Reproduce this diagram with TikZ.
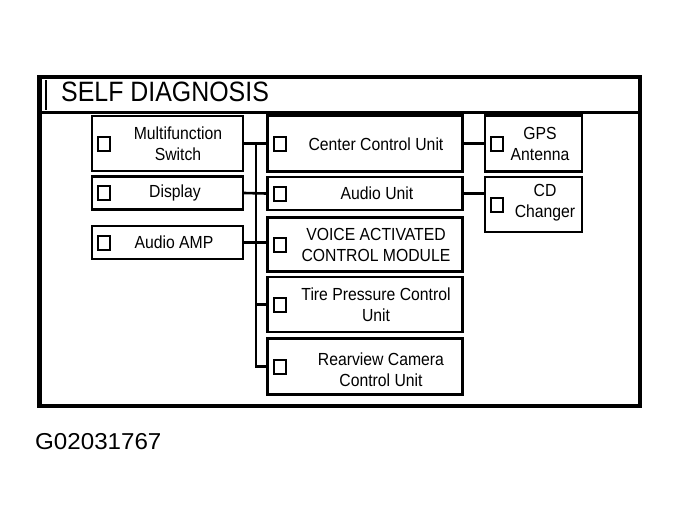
\documentclass[tikz,border=0pt]{standalone}
\usepackage{fontspec}
\usepackage{graphicx}
\setmainfont{Liberation Sans}
\newcommand\cn[1]{\scalebox{0.9}[1]{#1}}
\begin{document}
\begin{tikzpicture}[x=1pt,y=-1pt,
  box/.style={draw, line width=2.2pt, inner sep=0pt},
  chk/.style={draw, line width=2pt, minimum width=12pt, minimum height=14pt, inner sep=0pt},
  lbl/.style={font=\fontsize{17.5}{21}\selectfont, align=center, inner sep=0pt},
  conn/.style={line width=2.6pt},
  frame/.style={line width=4.5pt}]
\useasboundingbox (0,0) rectangle (679,528);
% frame and title
\draw[frame] (39.5,77) rectangle (640,406);
\draw[line width=2.2pt] (39,112.5) -- (640,112.5);
\draw[line width=2.2pt] (46,80) -- (46,110);
\node[anchor=west, inner sep=0pt, font=\fontsize{28}{30}\selectfont] (title) at (61,92) {\scalebox{0.89}[1]{SELF DIAGNOSIS}};
% left column
\node[box, minimum width=151pt, minimum height=55pt] (mfs) at (167.5,143.5) {};
\node[box, minimum width=151pt, minimum height=33pt] (disp) at (167.5,193) {};
\node[box, minimum width=151pt, minimum height=33pt] (amp) at (167.5,242.5) {};
% middle column
\node[box, minimum width=195pt, minimum height=56pt] (ccu) at (365,143.5) {};
\node[box, minimum width=195pt, minimum height=33pt] (au) at (365,193.5) {};
\node[box, minimum width=195pt, minimum height=54pt] (vac) at (365,244.5) {};
\node[box, minimum width=195pt, minimum height=55pt] (tpc) at (365,304.5) {};
\node[box, minimum width=195pt, minimum height=56pt] (rvc) at (365,366.5) {};
% right column
\node[box, minimum width=97pt, minimum height=56pt] (gps) at (533.5,143.5) {};
\node[box, minimum width=97pt, minimum height=55pt] (cd) at (533.5,204.5) {};
% checkboxes
\foreach \b in {mfs,disp,amp,ccu,au,vac,tpc,rvc,gps,cd}{
  \node[chk, xshift=13.5pt] (c\b) at (\b.west) {};
}
% labels
\node[lbl] (lmfs) at (178,144) {\cn{Multifunction}\\\cn{Switch}};
\node[lbl] (ldisp) at (175,193) {\cn{Display}};
\node[lbl] (lamp) at (174,242) {\cn{Audio AMP}};
\node[lbl] (lccu) at (376,144) {\cn{Center Control Unit}};
\node[lbl] (lau) at (377,193) {\cn{Audio Unit}};
\node[lbl] (lvac) at (376,244.5) {\cn{VOICE ACTIVATED}\\\cn{CONTROL MODULE}};
\node[lbl] (ltpc) at (376,305) {\cn{Tire Pressure Control}\\\cn{Unit}};
\node[lbl] (lrvc) at (381,370) {\cn{Rearview Camera}\\\cn{Control Unit}};
\node[lbl] (lgps) at (540,144) {\cn{GPS}\\\cn{Antenna}};
\node[lbl] (lcd) at (545,203) {\cn{CD}\\\cn{Changer}};
% bus
\coordinate (bus) at (256,143);
\draw[conn] (mfs.east) -- (mfs.east -| bus) |- (rvc.west);
\draw[conn] (mfs.east -| bus) -- (ccu.west);
\draw[conn] (disp.east) -- (au.west);
\draw[conn] (amp.east) -- (amp.east -| vac.west);
\draw[conn] (tpc.west -| bus) -- (tpc.west);
\draw[conn] (ccu.east) -- (gps.west);
\draw[conn] (au.east) -- (au.east -| cd.west);
% figure code
\node[anchor=west, inner sep=0pt, font=\fontsize{23}{25}\selectfont] (code) at (35,441.5) {\scalebox{1.05}[1]{G02031767}};
\end{tikzpicture}
\end{document}
